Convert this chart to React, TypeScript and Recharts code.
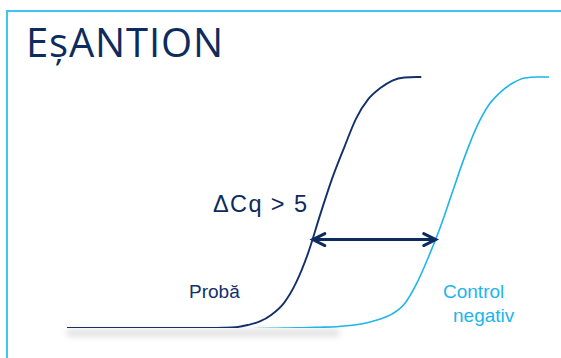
import React from "react";
import { LineChart, Line, XAxis, YAxis, ReferenceLine } from "recharts";

// Amplification curves: cycle number vs. normalised fluorescence (0–100)
const sampleCycles = [0, 12, 13, 14, 15, 16, 17, 18, 19, 20, 21, 22, 23, 24, 25, 26, 27, 28, 29, 29.4];
const sampleRfu = [0, 0, 0.1, 0.3, 1.2, 2.6, 5.4, 9.9, 17.9, 29.6, 44.8, 59.3, 71.6, 83.2, 90.8, 95.2, 98.2, 99.4, 99.6, 99.6];

const controlCycles = [12.4, 13, 14, 15, 16, 17, 18, 19, 20, 21, 22, 23, 24, 25, 26, 27, 28, 29, 30, 31, 32, 33, 34, 35, 36, 37, 38, 39, 40];
const controlRfu = [-0.4, -0.4, -0.35, -0.3, -0.25, -0.15, -0.05, 0.1, 0.15, 0.3, 0.4, 0.8, 1.3, 2.2, 3.6, 5.6, 9.5, 17.5, 28.2, 40.3, 54.2, 67.9, 79.8, 88.5, 93.7, 97.2, 99.2, 99.6, 99.6];

// ΔCq arrow between the two curves at the threshold level
const arrowCycles = [20.4, 30.6];
const arrowRfu = 35.1;

// baseline shadow segment (cycles)
const shadowCycles = [0, 22.6];
const shadowRfu = -2;

const titleText = "EșANTION";
const deltaText = "ΔCq > 5";
const sampleLabel = "Probă";
const controlLabel = ["Control", "negativ"];

const NAVY = "#0d2c5d";
const NAVY_LINE = "#13306a";
const CYAN = "#1db5ea";
const BORDER = "#40c4f0";

const sampleData = sampleCycles.map((c, i) => ({ c, v: sampleRfu[i] }));
const controlData = controlCycles.map((c, i) => ({ c, v: controlRfu[i] }));
const arrowData = arrowCycles.map((c) => ({ c, v: arrowRfu }));

const ArrowHead = (props: any) => {
  const { cx, cy, index } = props;
  if (cx == null || cy == null) return <g key={`ah-${index}`} />;
  const d = index === 0 ? 12 : -12;
  return (
    <polyline
      key={`ah-${index}`}
      points={`${cx + d},${cy - 6} ${cx},${cy} ${cx + d},${cy + 6}`}
      fill="none"
      stroke={NAVY}
      strokeWidth={3}
      strokeLinecap="round"
      strokeLinejoin="miter"
    />
  );
};

export default function App() {
  const labelFont = '"Liberation Sans", Arial, sans-serif';
  return (
    <div style={{ position: "absolute", left: 0, top: 0, width: 561, height: 358, background: "#fff", overflow: "hidden" }}>
      <svg width={0} height={0} style={{ position: "absolute" }}>
        <defs>
          <filter id="baseShadow" filterUnits="userSpaceOnUse" x={0} y={0} width={561} height={358}>
            <feGaussianBlur stdDeviation="3" />
          </filter>
        </defs>
      </svg>
      <div
        style={{
          position: "absolute",
          left: 6,
          top: 10,
          right: -10,
          bottom: -10,
          borderLeft: `2px solid ${BORDER}`,
          borderTop: `2px solid ${BORDER}`,
        }}
      />
      <div style={{ position: "absolute", left: 0, top: 0 }}>
        <LineChart width={561} height={358} margin={{ top: 76, right: 12, bottom: 30, left: 67 }}>
          <XAxis type="number" dataKey="c" domain={[0, 40]} hide allowDataOverflow />
          <YAxis type="number" dataKey="v" domain={[0, 100]} hide allowDataOverflow />
          <ReferenceLine
            segment={[
              { x: shadowCycles[0], y: shadowRfu },
              { x: shadowCycles[1], y: shadowRfu },
            ]}
            stroke="#000"
            strokeOpacity={0.14}
            strokeWidth={6}
            ifOverflow="visible"
            filter="url(#baseShadow)"
          />
          <Line
            data={controlData}
            dataKey="v"
            type="monotone"
            stroke={CYAN}
            strokeWidth={1.6}
            dot={false}
            activeDot={false}
            isAnimationActive={false}
          />
          <Line
            data={sampleData}
            dataKey="v"
            type="monotone"
            stroke={NAVY_LINE}
            strokeWidth={1.9}
            dot={false}
            activeDot={false}
            isAnimationActive={false}
          />
          <Line
            data={arrowData}
            dataKey="v"
            type="linear"
            stroke={NAVY}
            strokeWidth={3}
            dot={ArrowHead}
            activeDot={false}
            isAnimationActive={false}
          />
        </LineChart>
      </div>
      <svg width={561} height={358} style={{ position: "absolute", left: 0, top: 0, pointerEvents: "none" }}>
        <text x={26} y={57} fontFamily='"Open Sans", "Noto Sans", sans-serif' fontSize={40} fill={NAVY} textLength={197}>
          {titleText}
        </text>
        <text x={213} y={212} fontFamily={labelFont} fontSize={23.5} fill={NAVY} textLength={94}>
          {deltaText}
        </text>
        <text x={189} y={297.5} fontFamily={labelFont} fontSize={19} fill={NAVY_LINE}>
          {sampleLabel}
        </text>
        <text x={443} y={298} fontFamily={labelFont} fontSize={19} fill={CYAN}>
          {controlLabel[0]}
        </text>
        <text x={453} y={321.7} fontFamily={labelFont} fontSize={19} fill={CYAN}>
          {controlLabel[1]}
        </text>
      </svg>
    </div>
  );
}
